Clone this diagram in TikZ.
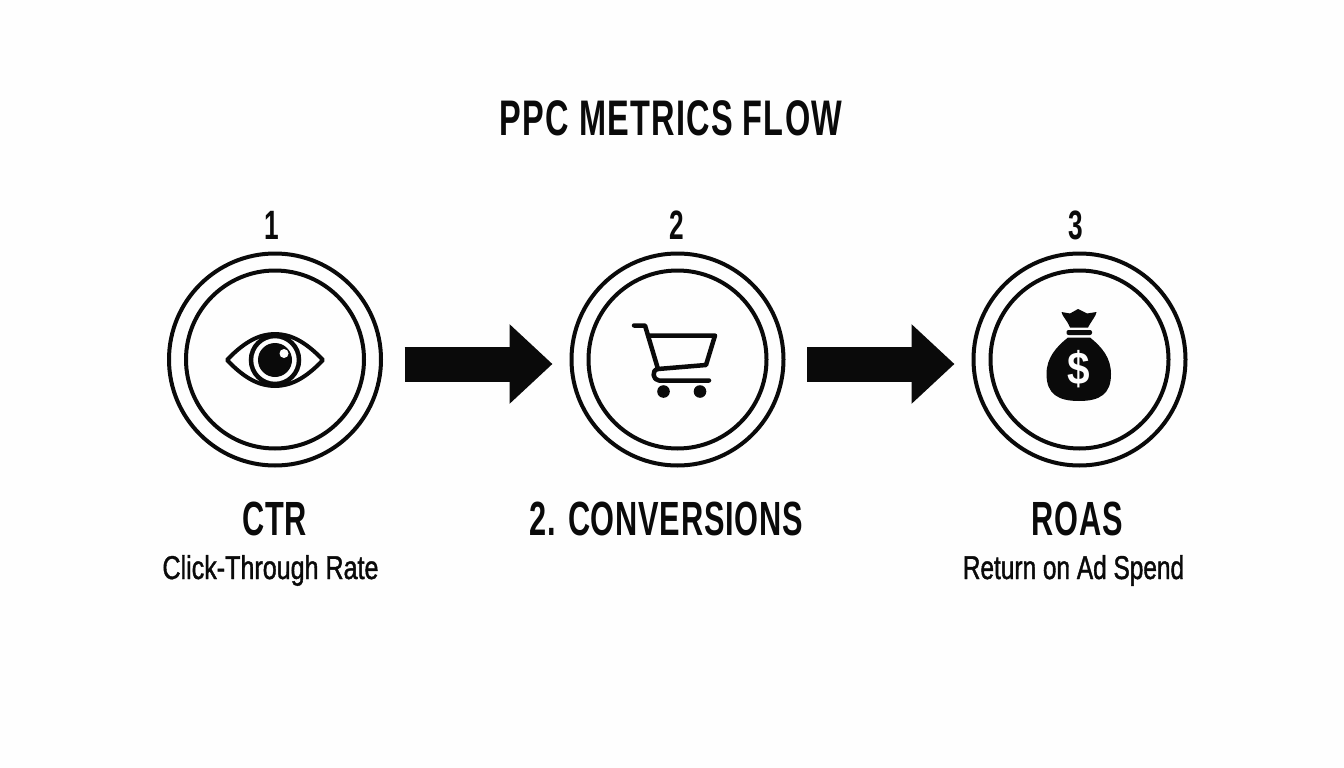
\documentclass[tikz,border=0pt]{standalone}
\usepackage{fontspec}
\setmainfont{Liberation Sans}
\newfontfamily\condfont[FakeStretch=0.64,LetterSpace=1.6]{Liberation Sans Bold}
\newfontfamily\titlefont[FakeStretch=0.65,LetterSpace=2.4]{Liberation Sans Bold}
\newfontfamily\subfont[FakeStretch=0.76,FakeBold=1.2]{Liberation Sans}
\newfontfamily\subfontb[FakeStretch=0.74,FakeBold=1.2]{Liberation Sans}
\newfontfamily\dollarfont[FakeStretch=0.88]{Liberation Sans Bold}
\usetikzlibrary{arrows.meta}
\definecolor{ink}{HTML}{0A0A0A}
\definecolor{paper}{HTML}{FEFEFE}
\tikzset{
  x=1pt,y=-1pt,
  ringouter/.style={circle,draw=ink,line width=4pt,minimum size=212pt,inner sep=0pt,outer sep=0pt},
  ringinner/.style={circle,draw=ink,line width=4pt,minimum size=178pt,inner sep=0pt},
  flowarrow/.style={draw=ink,line width=35pt,-{Triangle[length=43pt,width=77pt,fill=ink]},shorten <=23.5pt,shorten >=19pt},
  icon/.style={draw=ink,line width=4pt,line join=round,line cap=round},
  txt/.style={anchor=base,inner sep=0pt,text=ink,font=\condfont},
  titletxt/.style={txt,font=\titlefont\fontsize{50}{50}\selectfont},
  numtxt/.style={txt,font=\condfont\fontsize{41}{41}\selectfont},
  headtxt/.style={txt,font=\condfont\fontsize{48}{48}\selectfont},
  subtxt/.style={txt,font=\subfont\fontsize{33}{33}\selectfont},
  subtxtb/.style={txt,font=\subfontb\fontsize{33}{33}\selectfont},
}
\begin{document}
\begin{tikzpicture}
\useasboundingbox[fill=paper] (0,0) rectangle (1344,768);
\node[titletxt] (title) at (671,135) {PPC METRICS FLOW};
% rings
\node[ringouter] (c1) at (275,359.5) {};
\node[ringinner] (i1) at (275,359.5) {};
\node[ringouter] (c2) at (677.5,359.5) {};
\node[ringinner] (i2) at (677.5,359.5) {};
\node[ringouter] (c3) at (1079.5,359.5) {};
\node[ringinner] (i3) at (1079.5,359.5) {};
% connectors
\draw[flowarrow] ([yshift=-4.5pt]c1.east) -- ([yshift=-4.5pt]c2.west);
\draw[flowarrow] ([yshift=-4.5pt]c2.east) -- ([yshift=-4.5pt]c3.west);
% numbers
\node[numtxt] (n1) at (272,239) {1};
\node[numtxt] (n2) at (677,239) {2};
\node[numtxt] (n3) at (1076,239) {3};
% eye
\draw[icon,line cap=butt,miter limit=10] (227,360) .. controls (245,341) and (260,334) .. (275,334) .. controls (290,334) and (305,341) .. (323,360) .. controls (305,379) and (290,386) .. (275,386) .. controls (260,386) and (245,379) .. (227,360) -- cycle;
\draw[draw=ink,line width=4.5pt,fill=paper] (275,360) circle (24);
\fill[ink] (275,360) circle (17);
\fill[paper] (284,353.5) circle (4.5);
% cart
\draw[icon,line width=4.5pt] (634,325.5) -- (645,325.5) -- (658,369) .. controls (651,370) and (653,380.5) .. (659,380.5) -- (709,380.5);
\draw[icon,line width=4.5pt] (649,335.5) -- (715,335.5) -- (706,365) -- (658,369);
\fill[ink] (663.5,391.5) circle (6.3);
\fill[ink] (700,391.5) circle (6.3);
% money bag
\fill[ink] (1061.5,312) -- (1070,313.5) -- (1078,309) -- (1087,313.5) -- (1096.5,312) .. controls (1096,316) and (1092,320) .. (1088,327.5) -- (1070,327.5) .. controls (1067,320) and (1062,316) .. (1061.5,312) -- cycle;
\fill[ink,rounded corners=2pt] (1066.5,330) rectangle (1092,335);
\fill[ink] (1068,337.5) -- (1090,337.5) .. controls (1102,347) and (1111,358) .. (1111,374) .. controls (1111,394) and (1100,401) .. (1079,401) .. controls (1058,401) and (1046.5,394) .. (1046.5,374) .. controls (1046.5,358) and (1056,347) .. (1068,337.5) -- cycle;
\node[anchor=center,inner sep=0pt,text=paper,font=\dollarfont\fontsize{46}{46}\selectfont] (dollar) at (1079,369.5) {\$};
% labels
\node[headtxt] (h1) at (274.5,535) {CTR};
\node[headtxt] (h2) at (666,535) {2. CONVERSIONS};
\node[headtxt] (h3) at (1077.5,535) {ROAS};
\node[subtxt] (s1) at (270.5,579) {Click-Through Rate};
\node[subtxtb] (s3) at (1073.5,579) {Return on Ad Spend};
\end{tikzpicture}
\end{document}
